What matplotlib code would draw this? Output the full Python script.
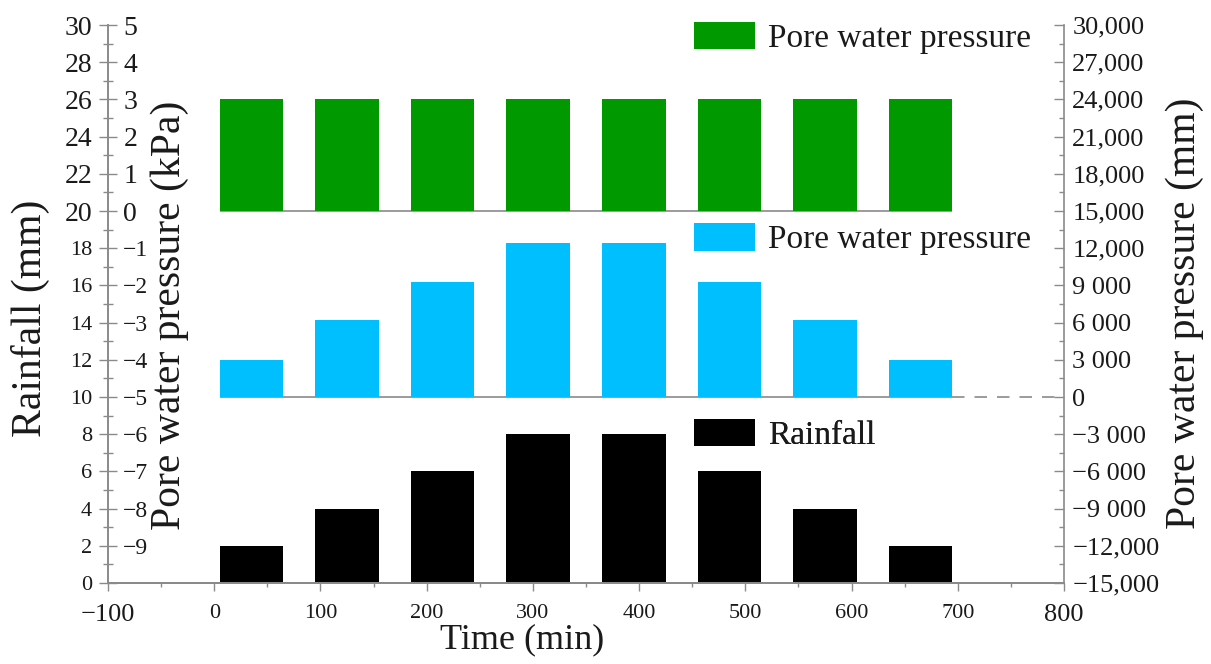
import matplotlib
matplotlib.use("Agg")
import matplotlib.pyplot as plt
from matplotlib.ticker import FixedLocator, MultipleLocator, FuncFormatter

plt.rcParams["font.family"] = ["Liberation Serif", "DejaVu Serif"]

# --- data ---
time_min = [35, 125, 215, 305, 395, 485, 575, 665]
rainfall_mm = [2, 4, 6, 8, 8, 6, 4, 2]
pwp_mm = [3000, 6200, 9300, 12450, 12450, 9300, 6200, 3000]   # right axis
pwp_kpa = [3, 3, 3, 3, 3, 3, 3, 3]                            # inner left axis
bar_width = 60

x_ticks = [-100, 0, 100, 200, 300, 400, 500, 600, 700, 800]
rain_ticks = list(range(0, 31, 2))
kpa_ticks = list(range(-9, 6))
mm_ticks = list(range(-15000, 30001, 3000))

GRAY = "#8a8a8a"
TXT = "#1a1a1a"

fig = plt.figure(figsize=(12.11, 6.64), dpi=100)
ax = fig.add_axes([0.0892, 0.122, 0.7894, 0.8403])
ax.set_xlim(-100, 800)
ax.set_ylim(0, 30)

ax2 = ax.twinx()
ax2.set_ylim(-10, 5)
ax3 = ax.twinx()
ax3.set_ylim(-15000, 30000)

for a in (ax, ax2, ax3):
    for s in a.spines.values():
        s.set_color(GRAY)
        s.set_linewidth(1.2)
    a.spines["top"].set_visible(False)
ax.spines["right"].set_visible(False)
ax2.spines["left"].set_visible(False)
ax2.spines["right"].set_position(("axes", 0))
ax3.spines["left"].set_visible(False)

# baselines of the stacked panels
ax.hlines([20, 10], time_min[0] - bar_width / 2, time_min[-1] + bar_width / 2,
          color=GRAY, lw=1.2, zorder=1)
ax.plot([time_min[-1] + bar_width / 2, 800], [10, 10], color=GRAY, lw=1.2,
        ls=(0, (7.5, 6)), zorder=1)

b_rain = ax.bar(time_min, rainfall_mm, width=bar_width, color="black", zorder=2)
b_kpa = ax2.bar(time_min, pwp_kpa, width=bar_width, bottom=0, color="#009a00", zorder=2)
b_mm = ax3.bar(time_min, pwp_mm, width=bar_width, bottom=0, color="#00bfff", zorder=2)

# x axis
ax.xaxis.set_major_locator(FixedLocator(x_ticks))
ax.xaxis.set_minor_locator(MultipleLocator(50))
ax.tick_params(axis="x", which="major", direction="out", length=6, width=1,
               color=GRAY, pad=9, labelcolor=TXT, labelsize=16)
ax.tick_params(axis="x", which="minor", direction="out", length=3, width=1, color=GRAY)
ax.set_xticklabels(["\u2212100"] + [str(v) for v in x_ticks[1:]])
for lbl, v in zip(ax.get_xticklabels(), x_ticks):
    if v in (-100, 800):
        lbl.set_fontsize(19)

# rainfall axis (outer left)
ax.yaxis.set_major_locator(FixedLocator(rain_ticks))
ax.yaxis.set_minor_locator(MultipleLocator(1))
ax.tick_params(axis="y", which="major", direction="inout", length=13, width=1,
               color=GRAY, pad=5, labelcolor=TXT, labelsize=16)
ax.tick_params(axis="y", which="minor", direction="inout", length=7, width=1, color=GRAY)
ax.set_yticklabels([str(v) for v in rain_ticks])
for lbl, v in zip(ax.get_yticklabels(), rain_ticks):
    if v >= 20:
        lbl.set_fontsize(20)

# kPa axis (labels right of the left spine)
ax2.yaxis.set_major_locator(FixedLocator(kpa_ticks))
ax2.tick_params(axis="y", which="both", length=0, pad=11, labelcolor=TXT, labelsize=17)
ax2.set_yticklabels([str(v).replace("-", "\u2212") for v in kpa_ticks])
for lbl, v in zip(ax2.get_yticklabels(), kpa_ticks):
    if v >= 0:
        lbl.set_fontsize(20)


def mm_fmt(v, pos=None):
    v = int(round(v))
    if v == 0:
        return "0"
    s = f"{abs(v):,}"
    if abs(v) < 10000:
        s = s.replace(",", " ")
    return ("\u2212" if v < 0 else "") + s


ax3.yaxis.set_major_locator(FixedLocator(mm_ticks))
ax3.yaxis.set_minor_locator(MultipleLocator(1500))
ax3.yaxis.set_major_formatter(FuncFormatter(mm_fmt))
ax3.tick_params(axis="y", which="major", direction="in", length=7, width=1,
                color=GRAY, pad=6, labelcolor=TXT, labelsize=19)
ax3.tick_params(axis="y", which="minor", direction="in", length=3.5, width=1, color=GRAY)

# axis titles
fig.text(30 / 1211, 1 - 318 / 664, "Rainfall (mm)", rotation=90, fontsize=30,
         ha="center", va="center", color=TXT)
fig.text(170 / 1211, 1 - 315 / 664, "Pore water pressure (kPa)", rotation=90,
         fontsize=30, ha="center", va="center", color=TXT)
fig.text(1185 / 1211, 1 - 313 / 664, "Pore water pressure (mm)", rotation=90,
         fontsize=30, ha="center", va="center", color=TXT)
fig.text(522 / 1211, 1 - 640 / 664, "Time (min)", fontsize=26,
         ha="center", va="center", color=TXT)

# three stacked legends
leg_kw = dict(loc="center left", frameon=False, fontsize=24, borderpad=0,
              borderaxespad=0, handlelength=1.83, handleheight=0.9,
              handletextpad=0.4, bbox_transform=fig.transFigure)
legs = [
    (b_kpa, "Pore water pressure", 0.9428),
    (b_mm, "Pore water pressure", 0.640),
    (b_rain, "Rainfall", 0.345),
]
for handle, text, yy in legs:
    lg = ax3.legend([handle], [text], bbox_to_anchor=(694 / 1211, yy), **leg_kw)
    for t in lg.get_texts():
        t.set_color(TXT)
    ax3.add_artist(lg)

fig.savefig("out.png", dpi=100)
